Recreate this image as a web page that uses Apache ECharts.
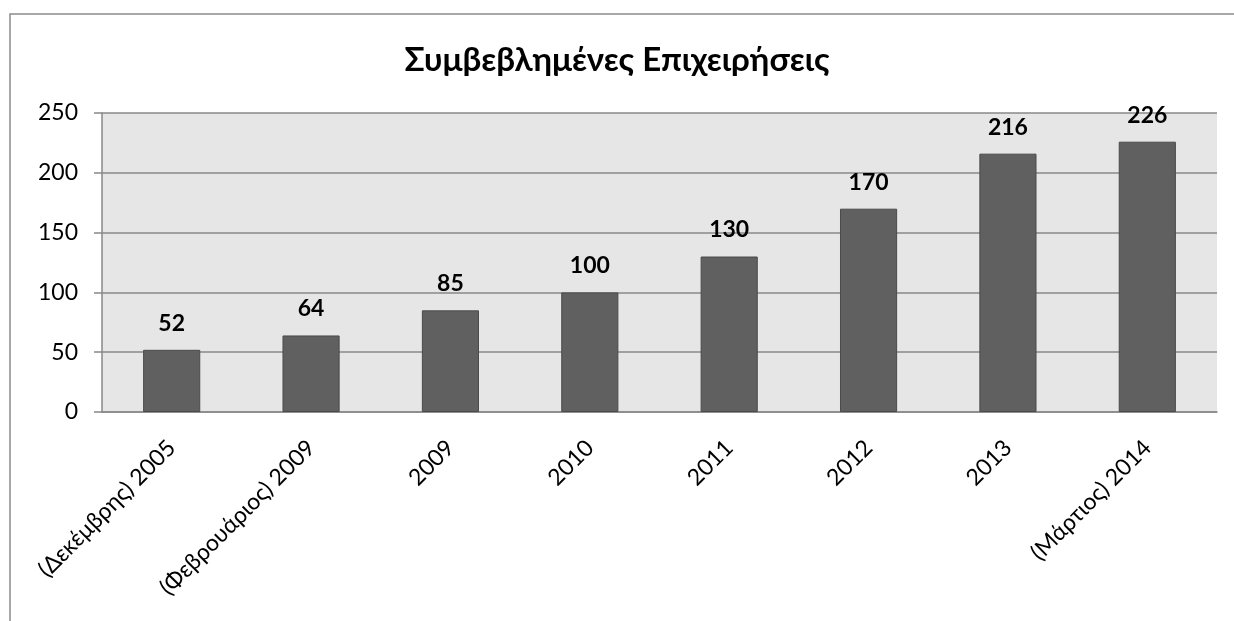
<!DOCTYPE html>
<html>
<head>
<meta charset="utf-8">
<script src="https://cdn.jsdelivr.net/npm/echarts@6/dist/echarts.min.js"></script>
<style>
  html, body { margin: 0; padding: 0; background: #fff; }
  #chart { width: 1234px; height: 621px; }
</style>
</head>
<body>
<div id="chart"></div>
<script>
// κατηγορίες και τιμές
var categories = ['(Δεκέμβρης) 2005', '(Φεβρουάριος) 2009', '2009', '2010', '2011', '2012', '2013', '(Μάρτιος) 2014'];
var values = [52, 64, 85, 100, 130, 170, 216, 226];
var yTicks = [0, 50, 100, 150, 200, 250];

var font = 'Lato, "Open Sans", sans-serif';
var chart = echarts.init(document.getElementById('chart'));

chart.setOption({
  animation: false,
  title: {
    text: 'Συμβεβλημένες Επιχειρήσεις',
    left: 'center',
    top: 39,
    textStyle: { fontFamily: font, fontSize: 33, fontWeight: 'bold', color: '#000' }
  },
  graphic: [{
    type: 'rect',
    shape: { x: 10, y: 14, width: 1240, height: 640 },
    style: { fill: 'none', stroke: '#8c8c8c', lineWidth: 1.5 },
    silent: true
  }],
  grid: {
    left: 102, right: 17, top: 113, bottom: 209,
    show: true, backgroundColor: '#e6e6e6', borderWidth: 0
  },
  xAxis: {
    type: 'category',
    data: categories,
    axisLine: { lineStyle: { color: '#888', width: 1.5 } },
    axisTick: { length: 8, lineStyle: { color: '#888', width: 1.5 } },
    axisLabel: {
      interval: 0,
      rotate: 45,
      margin: 32,
      color: '#000',
      fontFamily: font,
      fontSize: 23
    }
  },
  yAxis: {
    type: 'value',
    min: yTicks[0],
    max: yTicks[yTicks.length - 1],
    interval: 50,
    axisLine: { show: true, lineStyle: { color: '#888', width: 1.5 } },
    axisTick: { show: true, length: 8, lineStyle: { color: '#888', width: 1.5 } },
    splitLine: { lineStyle: { color: '#888', width: 1.5 } },
    axisLabel: { margin: 24, color: '#000', fontFamily: font, fontSize: 23 }
  },
  series: [{
    type: 'bar',
    data: values,
    barWidth: '41%',
    itemStyle: { color: '#606060', borderColor: '#4a4a4a', borderWidth: 1 },
    label: {
      show: true,
      position: 'top',
      distance: 15,
      color: '#000',
      fontFamily: font,
      fontSize: 23,
      fontWeight: 'bold'
    }
  }]
});
</script>
</body>
</html>
